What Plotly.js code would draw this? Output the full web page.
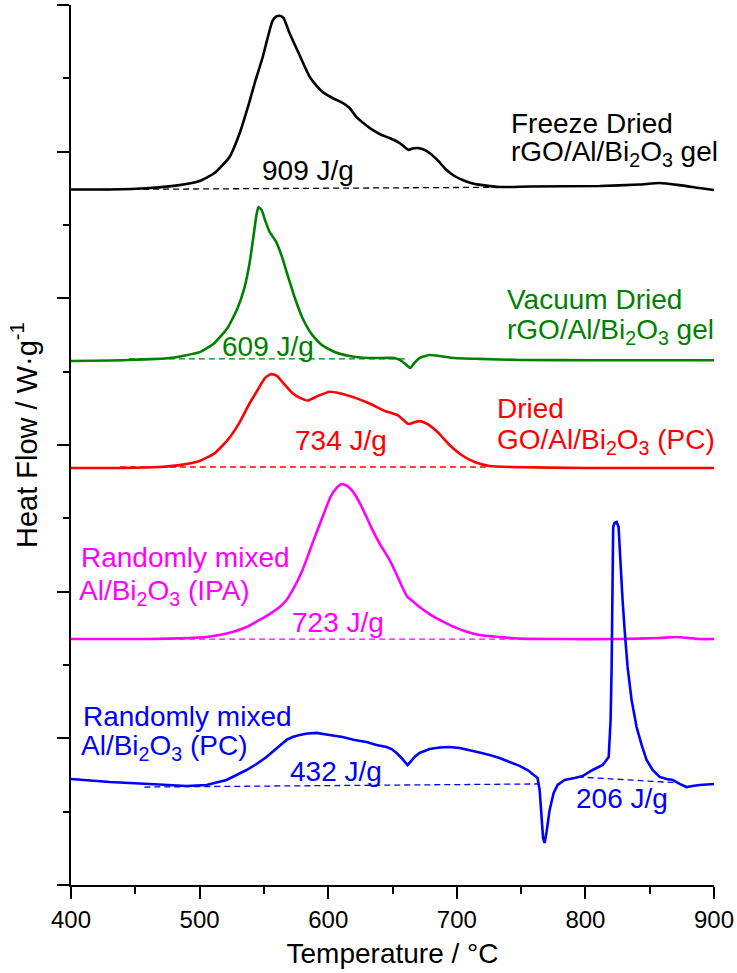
<!DOCTYPE html>
<html>
<head>
<meta charset="utf-8">
<script src="https://cdn.plot.ly/plotly-3.0.1.min.js"></script>
<style>
  html, body { margin: 0; padding: 0; background: #fff; }
  #chart { width: 737px; height: 973px; }
</style>
</head>
<body>
<div id="chart"></div>
<script>
// DSC curves (heat flow, exo up), each stacked on its own baseline offset.
// Freeze dried rGO/Al/Bi2O3 gel
const tempFreeze = [400, 430, 461, 484.4, 500, 511.6, 523.3, 531, 538.8, 543.5, 549, 552.8, 556.7, 559.8, 562.1, 565.2, 569.9, 577.7, 585.5, 591, 595.6, 603.4, 611.2, 616.6, 622, 628.3, 634.5, 641.5, 647.7, 655.5, 659.4, 662.5, 665.6, 669.5, 674.2, 678.8, 685, 692, 698.3, 704.5, 712.3, 720, 733.3, 756.6, 811, 842, 857.7, 873, 888.7, 900];
const flowFreeze = [0, 0, 0.01, 0.03, 0.058, 0.112, 0.222, 0.38, 0.60, 0.745, 0.90, 1.03, 1.15, 1.18, 1.185, 1.17, 1.067, 0.917, 0.77, 0.706, 0.665, 0.624, 0.59, 0.556, 0.494, 0.447, 0.406, 0.372, 0.351, 0.317, 0.29, 0.27, 0.28, 0.283, 0.273, 0.249, 0.20, 0.133, 0.092, 0.065, 0.041, 0.03, 0.017, 0.02, 0.024, 0.034, 0.044, 0.03, 0.01, -0.003];

// Vacuum dried rGO/Al/Bi2O3 gel
const tempVacuum = [400, 445.5, 476.6, 500, 511.6, 521.7, 529.5, 534.9, 538.8, 541.9, 544.3, 545.8, 548.2, 551.3, 554.4, 559, 563.7, 568.4, 573.8, 580, 587, 594.8, 605, 616.6, 632.2, 651.6, 657, 661.7, 664, 666.4, 671, 678.8, 686.6, 698.3, 717.7, 748.8, 811, 900];
const flowVacuum = [0, 0.007, 0.02, 0.06, 0.123, 0.225, 0.36, 0.50, 0.665, 0.85, 1.0, 1.05, 1.03, 0.95, 0.88, 0.82, 0.72, 0.586, 0.436, 0.293, 0.184, 0.11, 0.061, 0.034, 0.02, 0.02, 0.0, -0.034, -0.048, -0.02, 0.02, 0.041, 0.034, 0.02, 0.014, 0.007, 0.005, 0.005];

// Dried GO/Al/Bi2O3 (PC)
const tempDried = [400, 440, 468.8, 484.4, 500, 511.6, 521.7, 531, 538.8, 545, 550.5, 555.2, 559.8, 566, 572.3, 577.7, 584, 591.7, 601, 608.8, 620.5, 632.2, 643.8, 654, 659.4, 662.5, 666.4, 671, 677.3, 685, 694.4, 703.7, 713.8, 725.5, 741, 800, 900];
const flowDried = [0, 0, 0.007, 0.02, 0.048, 0.10, 0.19, 0.31, 0.44, 0.53, 0.61, 0.64, 0.63, 0.57, 0.51, 0.48, 0.46, 0.49, 0.52, 0.51, 0.48, 0.44, 0.39, 0.36, 0.32, 0.30, 0.31, 0.32, 0.30, 0.246, 0.157, 0.089, 0.041, 0.014, 0.007, 0, 0];

// Randomly mixed Al/Bi2O3 (IPA)
const tempIPA = [400, 461, 492, 505.4, 515.5, 525.6, 536.5, 546.6, 554.4, 562.2, 567.6, 572.3, 576.1, 580, 583.9, 587.8, 591.7, 597.1, 601.8, 606.5, 610.4, 615, 619.7, 624.4, 629.8, 634.5, 640.7, 647.7, 653.2, 657.8, 661.7, 665.6, 671, 678.8, 686.6, 696, 706, 717.7, 733.3, 748.8, 780, 826.5, 857.6, 870.8, 888.7, 900];
const flowIPA = [0, 0, 0.007, 0.014, 0.027, 0.048, 0.082, 0.13, 0.17, 0.218, 0.266, 0.334, 0.396, 0.47, 0.56, 0.654, 0.743, 0.866, 0.97, 1.03, 1.057, 1.043, 1.0, 0.93, 0.832, 0.743, 0.64, 0.54, 0.44, 0.35, 0.286, 0.259, 0.218, 0.17, 0.13, 0.09, 0.055, 0.027, 0.014, 0.003, 0, 0, 0.007, 0.014, 0, 0];

// Randomly mixed Al/Bi2O3 (PC)
const tempPC = [400, 430, 461, 489.8, 505.4, 520.9, 536.5, 544.3, 552, 559.8, 567.6, 572.3, 577.7, 584, 591, 601, 611.2, 620.5, 629.8, 637.6, 645.4, 649.3, 653.2, 657, 659.4, 661.7, 664, 667.2, 671, 678.8, 686.6, 694.4, 702.2, 710, 717.7, 725.5, 733.3, 741, 748.8, 755, 760.5, 762.8, 764.4, 766, 767.1, 768.3, 769.8, 772.2, 775.3, 778.4, 783.8, 791.6, 797.8, 805.6, 813.4, 818.1, 819.6, 820.4, 821.2, 821.6, 822.7, 824.3, 825.8, 827.4, 828.9, 830.5, 832.8, 835.9, 839.8, 843.7, 847.6, 852.3, 857.7, 863.2, 867.8, 873.3, 878.7, 883.3, 888.8, 900];
const flowPC = [0.041, 0.02, 0.007, -0.007, 0, 0.034, 0.102, 0.143, 0.191, 0.252, 0.307, 0.327, 0.341, 0.351, 0.355, 0.341, 0.327, 0.307, 0.293, 0.273, 0.259, 0.245, 0.218, 0.184, 0.157, 0.136, 0.157, 0.191, 0.218, 0.245, 0.256, 0.259, 0.252, 0.239, 0.222, 0.205, 0.184, 0.157, 0.13, 0.102, 0.068, 0.048, -0.034, -0.205, -0.361, -0.395, -0.32, -0.17, -0.055, 0, 0.034, 0.048, 0.061, 0.102, 0.136, 0.191, 0.443, 0.805, 1.534, 1.759, 1.786, 1.793, 1.759, 1.466, 1.261, 1.057, 0.805, 0.58, 0.395, 0.273, 0.17, 0.102, 0.055, 0.041, 0.034, 0.007, -0.014, -0.007, 0, 0.007];

// Vertical offsets of the stacked curves
const offsets = { freeze: 4.742, vacuum: 3.573, dried: 2.843, ipa: 1.677, pc: 0.682 };

// Integration baselines (start/end temperature, flow relative to curve baseline)
const baseFreezeT = [425, 725],  baseFreezeF = [0, 0.015];
const baseVacuumT = [445, 663],  baseVacuumF = [0.014, 0.014];
const baseDriedT = [438, 725],   baseDriedF = [0.007, 0.007];
const baseIPAT = [453, 749],     baseIPAF = [0, 0];
const basePC1T = [457, 764],     basePC1F = [-0.014, 0.007];
const basePC2T = [794, 873],     basePC2F = [0.055, 0.014];

// Reaction enthalpies
const enthalpies = ['909 J/g', '609 J/g', '734 J/g', '723 J/g', '432 J/g', '206 J/g'];

const colors = { freeze: '#000000', vacuum: '#008000', dried: '#ff0000', ipa: '#ff00ff', pc: '#0000ff' };

const shift = (arr, off) => arr.map(v => v + off);

function curve(t, f, key, shape) {
  return {
    x: t, y: shift(f, offsets[key]), type: 'scatter', mode: 'lines',
    line: { color: colors[key], width: 2.6, shape: shape || 'spline', smoothing: 0.5 },
    hoverinfo: 'skip', showlegend: false
  };
}
function baseline(t, f, key) {
  return {
    x: t, y: shift(f, offsets[key]), type: 'scatter', mode: 'lines',
    line: { color: colors[key], width: 1.3, dash: '6px,4px' },
    hoverinfo: 'skip', showlegend: false
  };
}

const data = [
  baseline(baseFreezeT, baseFreezeF, 'freeze'),
  baseline(baseVacuumT, baseVacuumF, 'vacuum'),
  baseline(baseDriedT, baseDriedF, 'dried'),
  baseline(baseIPAT, baseIPAF, 'ipa'),
  baseline(basePC1T, basePC1F, 'pc'),
  baseline(basePC2T, basePC2F, 'pc'),
  curve(tempFreeze, flowFreeze, 'freeze'),
  curve(tempVacuum, flowVacuum, 'vacuum'),
  curve(tempDried, flowDried, 'dried'),
  curve(tempIPA, flowIPA, 'ipa'),
  curve(tempPC, flowPC, 'pc', 'linear')
];

const FONT = 'Liberation Sans, Arial, Helvetica, sans-serif';
const labelSize = 28;

function note(text, x, y, color, anchor) {
  return {
    text: text, x: x, y: y, xref: 'x', yref: 'y', showarrow: false,
    xanchor: anchor || 'left', yanchor: 'middle',
    font: { family: FONT, size: labelSize, color: color }
  };
}

const annotations = [
  note('Freeze Dried', 740.3, 5.19, colors.freeze),
  note('rGO/Al/Bi<sub>2</sub>O<sub>3</sub> gel', 740.3, 4.99, colors.freeze),
  note('Vacuum Dried', 737.2, 3.995, colors.vacuum),
  note('rGO/Al/Bi<sub>2</sub>O<sub>3</sub> gel', 737.2, 3.774, colors.vacuum),
  note('Dried', 729.4, 3.249, colors.dried),
  note('GO/Al/Bi<sub>2</sub>O<sub>3</sub> (PC)', 729.4, 3.024, colors.dried),
  note('Randomly mixed', 406.6, 2.233, colors.ipa),
  note('Al/Bi<sub>2</sub>O<sub>3</sub> (IPA)', 405, 1.994, colors.ipa),
  note('Randomly mixed', 407.5, 1.149, colors.pc),
  note('Al/Bi<sub>2</sub>O<sub>3</sub> (PC)', 406.6, 0.937, colors.pc),
  note(enthalpies[0], 584.2, 4.875, colors.freeze, 'center'),
  note(enthalpies[1], 552.8, 3.675, colors.vacuum, 'center'),
  note(enthalpies[2], 609.6, 3.034, colors.dried, 'center'),
  note(enthalpies[3], 608, 1.793, colors.ipa, 'center'),
  note(enthalpies[4], 605.7, 0.777, colors.pc, 'center'),
  note(enthalpies[5], 828.8, 0.593, colors.pc, 'center'),
  {
    text: 'Heat Flow / W·g<sup>-1</sup>', xref: 'paper', yref: 'paper',
    x: -0.072, y: 0.511, xanchor: 'center', yanchor: 'middle', textangle: -90,
    showarrow: false, font: { family: FONT, size: 29, color: '#000' }
  }
];

const layout = {
  width: 737, height: 973,
  margin: { l: 71, r: 23, t: 5, b: 88 },
  paper_bgcolor: '#ffffff', plot_bgcolor: '#ffffff',
  font: { family: FONT, color: '#000' },
  showlegend: false,
  xaxis: {
    range: [400, 900], tick0: 400, dtick: 100,
    ticks: 'outside', ticklen: 12, tickwidth: 2, tickcolor: '#000',
    minor: { dtick: 50, ticks: 'outside', ticklen: 7, tickwidth: 2, tickcolor: '#000', showgrid: false },
    showline: true, linewidth: 2, linecolor: '#000', mirror: false,
    showgrid: false, zeroline: false,
    tickfont: { family: FONT, size: 24, color: '#000' },
    title: { text: 'Temperature / °C', font: { family: FONT, size: 28, color: '#000' }, standoff: 12 }
  },
  yaxis: {
    range: [0, 6], tick0: 0, dtick: 1,
    ticks: 'outside', ticklen: 12, tickwidth: 2, tickcolor: '#000',
    minor: { dtick: 0.5, ticks: 'outside', ticklen: 6, tickwidth: 2, tickcolor: '#000', showgrid: false },
    showticklabels: false,
    showline: true, linewidth: 2, linecolor: '#000', mirror: false,
    showgrid: false, zeroline: false
  },
  annotations: annotations
};

Plotly.newPlot('chart', data, layout, { staticPlot: true, displayModeBar: false });
</script>
</body>
</html>
